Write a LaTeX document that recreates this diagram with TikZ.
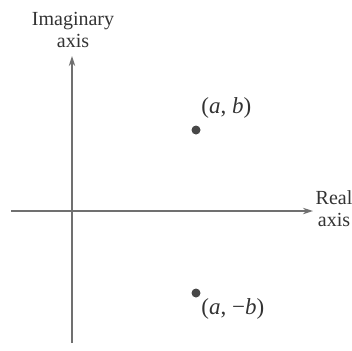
\documentclass[tikz,border=0pt]{standalone}
\usepackage{fontspec}
\setmainfont{Liberation Serif}
\usetikzlibrary{arrows.meta}
\definecolor{axisgray}{HTML}{707070}
\definecolor{dotgray}{HTML}{474747}
\definecolor{textgray}{HTML}{333333}
\begin{document}
\begin{tikzpicture}[x=0.5pt,y=-0.5pt,
  axisline/.style={draw=axisgray,line width=0.7pt,-{Stealth[length=5pt,width=3.2pt]}},
  axislabel/.style={font=\fontsize{10}{11}\selectfont,text=textgray,align=center,inner sep=0pt},
  ptlabel/.style={font=\fontsize{11.5}{13}\selectfont,text=textgray,inner sep=0pt,anchor=west},
  pt/.style={circle,fill=dotgray,minimum size=4.5pt,inner sep=0pt}]
\useasboundingbox (0,0) rectangle (352,350);
\coordinate (hl) at (11,211);
\coordinate (hr) at (313,211);
\coordinate (vb) at (72,343);
\coordinate (vt) at (72,56);
\draw[axisline] (hl) -- (hr);
\draw[axisline] (vb) -- (vt);
\node[axislabel] (imlab) at (73,30) {Imaginary\\axis};
\node[axislabel] (relab) at (334,209) {Real\\axis};
\node[pt] (p1) at (196,130) {};
\node[pt] (p2) at (196,293) {};
\node[ptlabel] (l1) at (201,108) {(\textit{a}, \textit{b})};
\node[ptlabel] (l2) at (201,309) {(\textit{a}, −\textit{b})};
\end{tikzpicture}
\end{document}
